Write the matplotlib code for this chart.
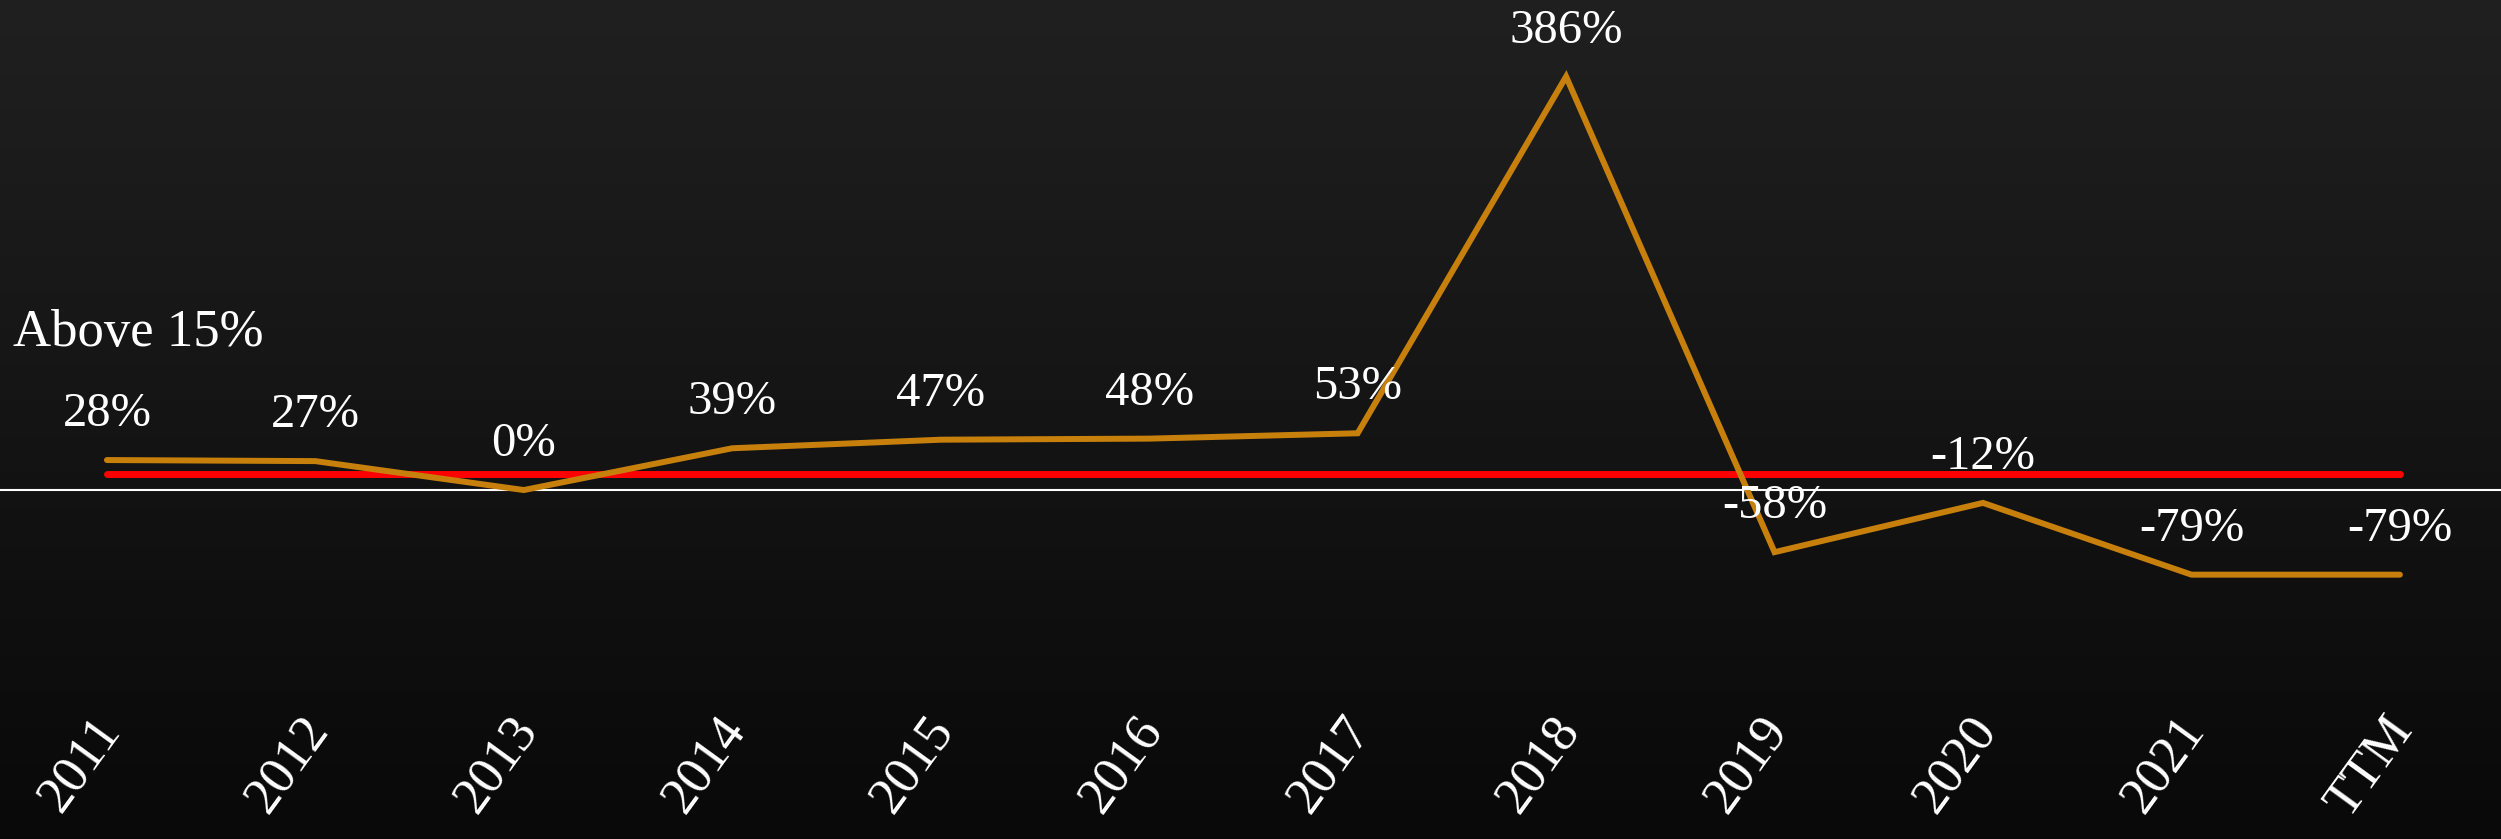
import numpy as np
import matplotlib
matplotlib.use("Agg")
import matplotlib.pyplot as plt
from matplotlib.transforms import ScaledTranslation

years = ["2011", "2012", "2013", "2014", "2015", "2016", "2017",
         "2018", "2019", "2020", "2021", "TTM"]
growth = [28, 27, 0, 39, 47, 48, 53, 386, -58, -12, -79, -79]
threshold = 15
threshold_label = "Above 15%"

plt.rcParams["font.family"] = ["Liberation Serif", "DejaVu Serif"]

fig = plt.figure(figsize=(25.01, 8.39), dpi=100)

# dark chalkboard-style backdrop, lighter at the top
bg = fig.add_axes([0, 0, 1, 1], zorder=0)
shade = np.linspace(0.125, 0.035, 256).reshape(-1, 1)
bg.imshow(shade, cmap="gray", vmin=0, vmax=1, aspect="auto",
          extent=[0, 1, 0, 1], interpolation="bicubic")
bg.axis("off")

ax = fig.add_axes([0, 0.1597, 1, 0.8403], zorder=1)
ax.patch.set_alpha(0)

x = np.arange(len(years))
ax.axhline(0, color="white", lw=1.5, zorder=1)
ax.plot(x, [threshold] * len(x), color="#ff0000", lw=5,
        solid_capstyle="round", zorder=2)
ax.plot(x, growth, color="#c8800c", lw=4.3,
        solid_capstyle="round", solid_joinstyle="miter", zorder=3)

for xi, v in zip(x, growth):
    ax.annotate(f"{v}%", (xi, v), xytext=(0, 33), textcoords="offset points",
                ha="center", va="center", color="white", fontsize=35, zorder=4)

ax.text(0.005, 0.588, threshold_label, transform=fig.transFigure,
        color="white", fontsize=38, ha="left", va="baseline")

ax.set_xlim(-0.513, 11.485)
ax.set_ylim(-200.7, 457.5)
ax.set_xticks(x)
ax.set_xticklabels(years, rotation=54, ha="right", va="top",
                   rotation_mode="anchor", color="white", fontsize=38)
ax.tick_params(axis="x", length=0, pad=0)
shift = ScaledTranslation(-0.16, -0.03, fig.dpi_scale_trans)
for lbl in ax.get_xticklabels():
    lbl.set_transform(lbl.get_transform() + shift)
ax.set_yticks([])
for s in ax.spines.values():
    s.set_visible(False)

fig.savefig("out.png", dpi=100)
